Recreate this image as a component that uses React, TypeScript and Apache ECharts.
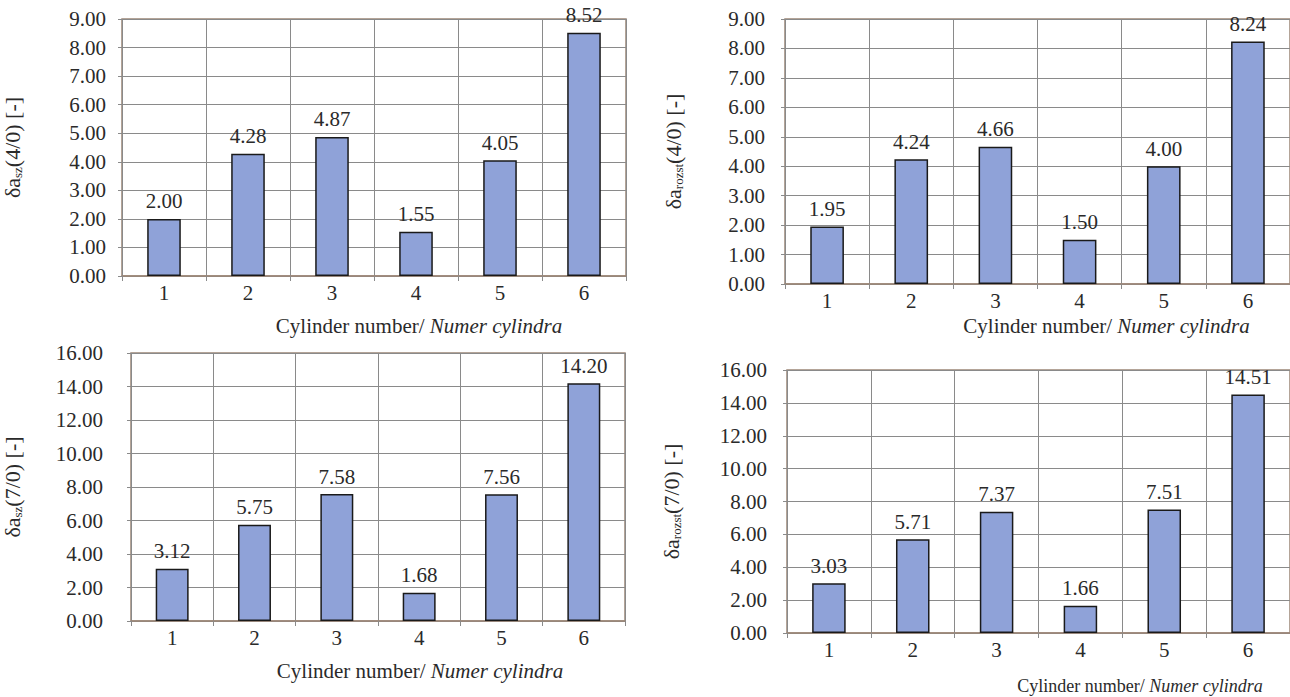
import React, { useEffect, useRef } from "react";
import * as echarts from "echarts";

const cylinders = ["1", "2", "3", "4", "5", "6"];
const szRatio40 = [2.0, 4.28, 4.87, 1.55, 4.05, 8.52];
const rozstRatio40 = [1.95, 4.24, 4.66, 1.5, 4.0, 8.24];
const szRatio70 = [3.12, 5.75, 7.58, 1.68, 7.56, 14.2];
const rozstRatio70 = [3.03, 5.71, 7.37, 1.66, 7.51, 14.51];

const yMax40 = 9;
const yStep40 = 1;
const yMax70 = 16;
const yStep70 = 2;

const FONT = "Liberation Serif";
const TEXT = "#2a2a2a";
const GRID = "#8a8a8a";
const BORDER = "#9c8677";
const BAR = "#8fa2d8";
const FS = 21;

export default function App() {
  const ref = useRef<HTMLDivElement>(null);

  useEffect(() => {
    if (!ref.current) return;
    const chart = echarts.init(ref.current, null, { renderer: "svg" });

    const panels = [
      { grid: { left: 120, top: 19, width: 506, height: 257 }, data: szRatio40, sub: "sz", ratio: "(4/0) [-]", max: yMax40, step: yStep40, yGap: 98, labelMargin: 16, xGap: 39, xShift: 90, xFs: 21 },
      { grid: { left: 785, top: 19, width: 505, height: 265 }, data: rozstRatio40, sub: "rozst", ratio: "(4/0) [-]", max: yMax40, step: yStep40, yGap: 100, labelMargin: 20, xGap: 31, xShift: 138, xFs: 21 },
      { grid: { left: 128, top: 353, width: 497, height: 268 }, data: szRatio70, sub: "sz", ratio: "(7/0) [-]", max: yMax70, step: yStep70, yGap: 107, labelMargin: 28, xGap: 39, xShift: 84, xFs: 21 },
      { grid: { left: 787, top: 370, width: 503, height: 263 }, data: rozstRatio70, sub: "rozst", ratio: "(7/0) [-]", max: yMax70, step: yStep70, yGap: 104, labelMargin: 20, xGap: 44, xShift: 203, xFs: 18 },
    ];

    const option: any = {
      animation: false,
      backgroundColor: "#ffffff",
      textStyle: { fontFamily: FONT },
      grid: panels.map((p) => ({
        ...p.grid,
        show: true,
        borderColor: BORDER,
        borderWidth: 1.5,
        backgroundColor: "transparent",
      })),
      xAxis: panels.map((p, i) => ({
        type: "category",
        gridIndex: i,
        data: cylinders,
        name: "{a|Cylinder number/ }{b|Numer cylindra}",
        nameLocation: "middle",
        nameGap: p.xGap,
        nameTextStyle: {
          fontFamily: FONT,
          padding: [0, 0, 0, p.xShift],
          rich: {
            a: { fontFamily: FONT, fontSize: p.xFs, color: TEXT },
            b: { fontFamily: FONT, fontSize: p.xFs, color: TEXT, fontStyle: "italic" },
          },
        },
        axisLine: { show: true, lineStyle: { color: BORDER, width: 1.5 } },
        axisTick: { show: true, length: 5, interval: 0, lineStyle: { color: GRID } },
        axisLabel: { interval: 0, margin: 6, fontFamily: FONT, fontSize: FS, color: TEXT },
        splitLine: { show: true, interval: 0, lineStyle: { color: GRID, width: 1 } },
      })),
      yAxis: panels.map((p, i) => ({
        type: "value",
        gridIndex: i,
        min: 0,
        max: p.max,
        interval: p.step,
        name: `{a|δa}{s|${p.sub}}{a|${p.ratio}}`,
        nameLocation: "middle",
        nameGap: p.yGap,
        nameTextStyle: {
          fontFamily: FONT,
          rich: {
            a: { fontFamily: FONT, fontSize: 22, color: TEXT, lineHeight: 24 },
            s: { fontFamily: FONT, fontSize: 13, color: TEXT, verticalAlign: "bottom", lineHeight: 24 },
          },
        },
        axisLine: { show: false },
        axisTick: { show: true, length: 4, lineStyle: { color: GRID } },
        axisLabel: {
          margin: p.labelMargin,
          fontFamily: FONT,
          fontSize: FS,
          color: TEXT,
          formatter: (v: number) => v.toFixed(2),
        },
        splitLine: { show: true, lineStyle: { color: GRID, width: 1 } },
      })),
      series: panels.map((p, i) => ({
        type: "bar",
        xAxisIndex: i,
        yAxisIndex: i,
        data: p.data,
        barWidth: "40%",
        itemStyle: { color: BAR, borderColor: "#1a1a1a", borderWidth: 1.5 },
        label: {
          show: true,
          position: "top",
          distance: 7,
          fontFamily: FONT,
          fontSize: FS,
          color: TEXT,
          formatter: (d: any) => Number(d.value).toFixed(2),
        },
      })),
    };

    chart.setOption(option);
    return () => chart.dispose();
  }, []);

  return (
    <div
      ref={ref}
      style={{ position: "fixed", left: 0, top: 0, width: 1290, height: 697, background: "#fff" }}
    />
  );
}
